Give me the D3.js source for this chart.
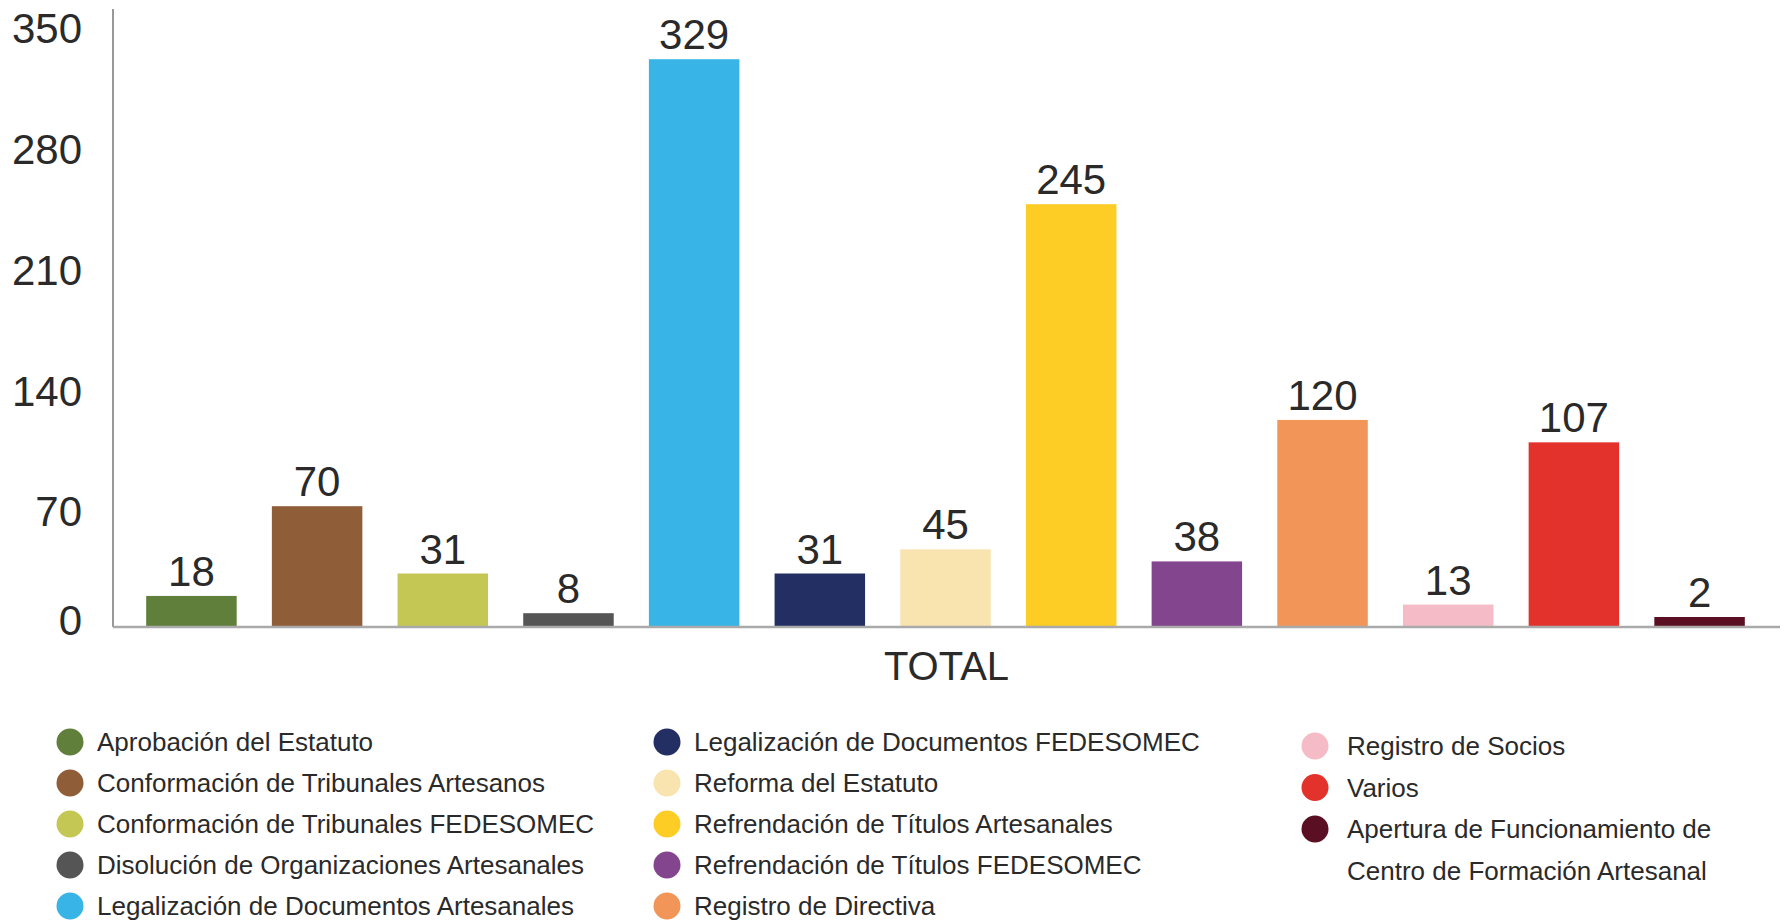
<!DOCTYPE html>
<html lang="es">
<head>
    <meta charset="UTF-8">
    <title>Trámites</title>
    <script src="https://d3js.org/d3.v7.min.js"></script>
    <style>
        body {
            margin: 0;
            background: white;
        }
        svg text {
            font-family: "Liberation Sans", Helvetica, Arial, sans-serif;
            fill: #2a2a2a;
        }
    </style>
</head>
<body>
<svg id="viz"></svg>
<script>
    var categories = ["Aprobación del Estatuto",
        "Conformación de Tribunales Artesanos",
        "Conformación de Tribunales FEDESOMEC",
        "Disolución de Organizaciones Artesanales",
        "Legalización de Documentos Artesanales",
        "Legalización de Documentos FEDESOMEC",
        "Reforma del Estatuto",
        "Refrendación de Títulos Artesanales",
        "Refrendación de Títulos FEDESOMEC",
        "Registro de Directiva",
        "Registro de Socios",
        "Varios",
        "Apertura de Funcionamiento de Centro de Formación Artesanal"];
    var totals = [18, 70, 31, 8, 329, 31, 45, 245, 38, 120, 13, 107, 2];
    var colors = ["#5f7f3a", "#8f5d37", "#c5c754", "#555555", "#38b4e6", "#232f63",
        "#f9e4b0", "#fdcd25", "#84458f", "#f19559", "#f5bcc7", "#e3312b", "#5b0f22"];
    var yTicks = [0, 70, 140, 210, 280, 350];
    var xTitle = "TOTAL";

    var width = 1785, height = 921;
    var plotLeft = 113, plotRight = 1780, plotBottom = 627, plotTop = 23;
    var minBar = 10; // tiny values still get a visible bar

    var svg = d3.select("#viz")
        .attr("width", width)
        .attr("height", height);

    var xScale = d3.scaleBand()
        .domain(categories)
        .range([plotLeft - 2, plotRight])
        .paddingInner(0.28)
        .paddingOuter(0.28);

    var yScale = d3.scaleLinear()
        .domain([0, 350])
        .range([plotBottom, plotTop]);

    function barTop(d) {
        return Math.min(yScale(d), yScale(0) - minBar);
    }

    // y axis: labels only, line drawn a bit past the top tick
    var yAxis = d3.axisLeft(yScale)
        .tickValues(yTicks)
        .tickSize(0)
        .tickPadding(31);
    var gy = svg.append("g")
        .attr("transform", "translate(" + plotLeft + ",0)")
        .call(yAxis);
    gy.select(".domain").remove();
    gy.selectAll("text")
        .attr("dy", function (d) { return d == 0 ? "0.18em" : "0.47em"; })
        .style("font-size", "42px")
        .style("font-family", "'Liberation Sans', Helvetica, Arial, sans-serif")
        .attr("fill", "#2a2a2a");

    svg.append("line")
        .attr("x1", plotLeft).attr("x2", plotLeft)
        .attr("y1", yScale(0)).attr("y2", yScale(350) - 14)
        .attr("stroke", "#999")
        .attr("stroke-width", 2);

    svg.selectAll("rect.bar")
        .data(totals)
        .enter()
        .append("rect")
        .attr("class", "bar")
        .attr("x", function (d, i) { return xScale(categories[i]); })
        .attr("width", xScale.bandwidth())
        .attr("y", barTop)
        .attr("height", function (d) { return yScale(0) - barTop(d); })
        .attr("fill", function (d, i) { return colors[i]; });

    svg.selectAll("text.value")
        .data(totals)
        .enter()
        .append("text")
        .attr("class", "value")
        .attr("x", function (d, i) { return xScale(categories[i]) + xScale.bandwidth() / 2; })
        .attr("y", function (d) { return barTop(d) - 10; })
        .attr("text-anchor", "middle")
        .style("font-size", "42px")
        .text(function (d) { return d; });

    svg.append("line")
        .attr("x1", plotLeft).attr("x2", plotRight)
        .attr("y1", yScale(0)).attr("y2", yScale(0))
        .attr("stroke", "#aaa")
        .attr("stroke-width", 2.5);

    svg.append("text")
        .attr("x", (plotLeft + plotRight) / 2)
        .attr("y", 680)
        .attr("text-anchor", "middle")
        .style("font-size", "40px")
        .text(xTitle);

    // legend, three columns
    var colX = [70, 667, 1315];
    var colY = [742, 742, 746];
    var rowH = [41, 41, 41.5];
    var perCol = 5;

    var legend = svg.selectAll("g.legend")
        .data(categories)
        .enter()
        .append("g")
        .attr("class", "legend")
        .attr("transform", function (d, i) {
            var c = Math.floor(i / perCol), r = i % perCol;
            return "translate(" + colX[c] + "," + (colY[c] + r * rowH[c]) + ")";
        });

    legend.append("circle")
        .attr("r", 13.5)
        .attr("fill", function (d, i) { return colors[i]; });

    legend.append("text")
        .attr("x", function (d, i) { return Math.floor(i / perCol) == 2 ? 32 : 27; })
        .attr("dy", "0.36em")
        .style("font-size", "26px")
        .each(function (d, i) {
            var t = d3.select(this);
            var maxW = Math.floor(i / perCol) == 2 ? 400 : 9999;
            var words = d.split(" ");
            var line = [];
            var x = t.attr("x");
            var tspan = t.append("tspan").attr("x", x);
            words.forEach(function (w) {
                line.push(w);
                tspan.text(line.join(" "));
                if (tspan.node().getComputedTextLength() > maxW && line.length > 1) {
                    line.pop();
                    tspan.text(line.join(" "));
                    line = [w];
                    tspan = t.append("tspan").attr("x", x).attr("dy", "1.6em").text(w);
                }
            });
        });
</script>
</body>
</html>
